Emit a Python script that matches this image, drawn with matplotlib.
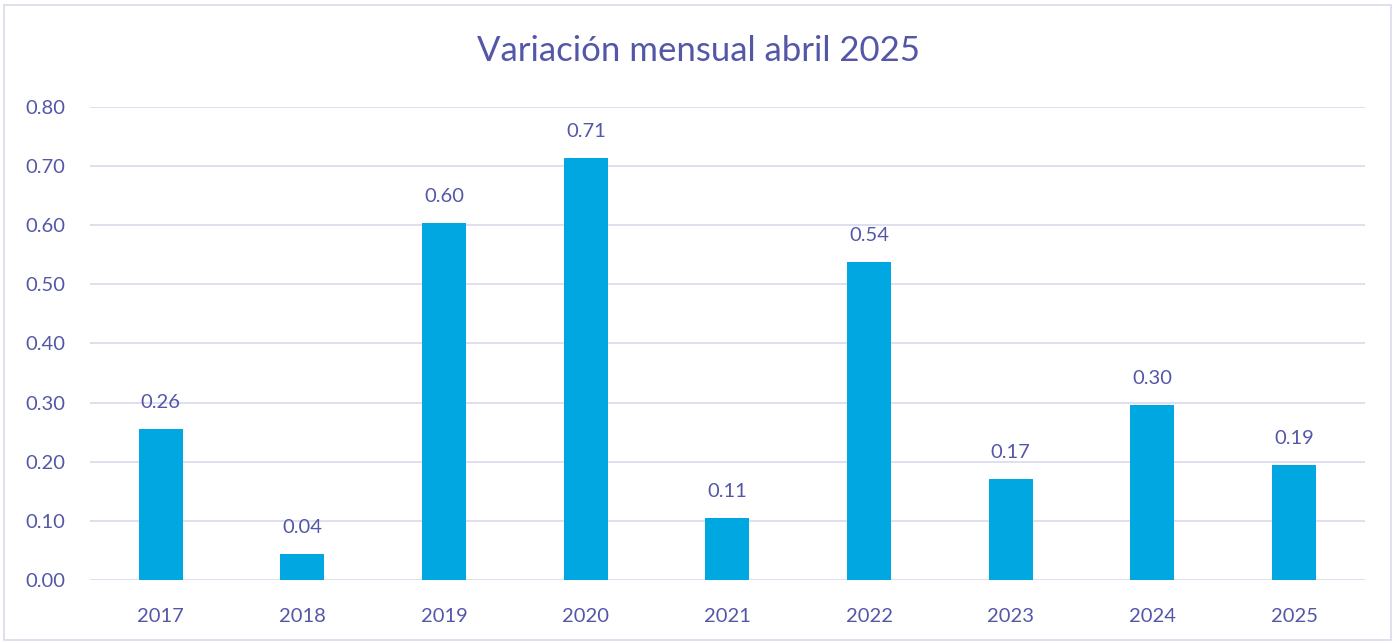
import matplotlib.pyplot as plt
from matplotlib.patches import Rectangle

# - Data
years = ['2017', '2018', '2019', '2020', '2021', '2022', '2023', '2024', '2025']
values = [0.256, 0.044, 0.603, 0.713, 0.105, 0.537, 0.171, 0.296, 0.194]
labels = ['0.26', '0.04', '0.60', '0.71', '0.11', '0.54', '0.17', '0.30', '0.19']
yticks = [0.0, 0.1, 0.2, 0.3, 0.4, 0.5, 0.6, 0.7, 0.8]

text_color = '#5457A8'
bar_color = '#00A7E1'
grid_color = '#D9D9EE'

plt.rcParams['font.family'] = ['Lato', 'DejaVu Sans']

fig = plt.figure(figsize=(13.97, 6.43), dpi=100)
ax = fig.add_axes([0.0644, 0.098, 0.9126, 0.7356])

# frame round the chart
fig.patches.append(Rectangle((0.003, 0.004), 0.993, 0.988, transform=fig.transFigure,
                             fill=False, edgecolor='#D9D9EE', linewidth=1.2))

x = range(len(years))
bars = ax.bar(x, values, width=0.31, color=bar_color, zorder=3)
for b, lab in zip(bars, labels):
    ax.text(b.get_x() + b.get_width() / 2, b.get_height() + 0.045, lab,
            ha='center', va='center', fontsize=14.5, color=text_color)

ax.set_xlim(-0.5, len(years) - 0.5)
ax.set_ylim(0, 0.8)
ax.set_yticks(yticks)
ax.set_yticklabels([f'{t:.2f}' for t in yticks])
ax.set_xticks(list(x))
ax.set_xticklabels(years)
ax.tick_params(axis='both', length=0, labelsize=14.5, labelcolor=text_color)
ax.tick_params(axis='y', pad=18)
ax.tick_params(axis='x', pad=20)
ax.grid(axis='y', color=grid_color, linewidth=1.2, zorder=0)
for s in ax.spines.values():
    s.set_visible(False)

fig.text(0.5, 0.92, 'Variación mensual abril 2025', ha='center', va='center',
         fontsize=25, color=text_color)

fig.savefig('out.png', dpi=100)
